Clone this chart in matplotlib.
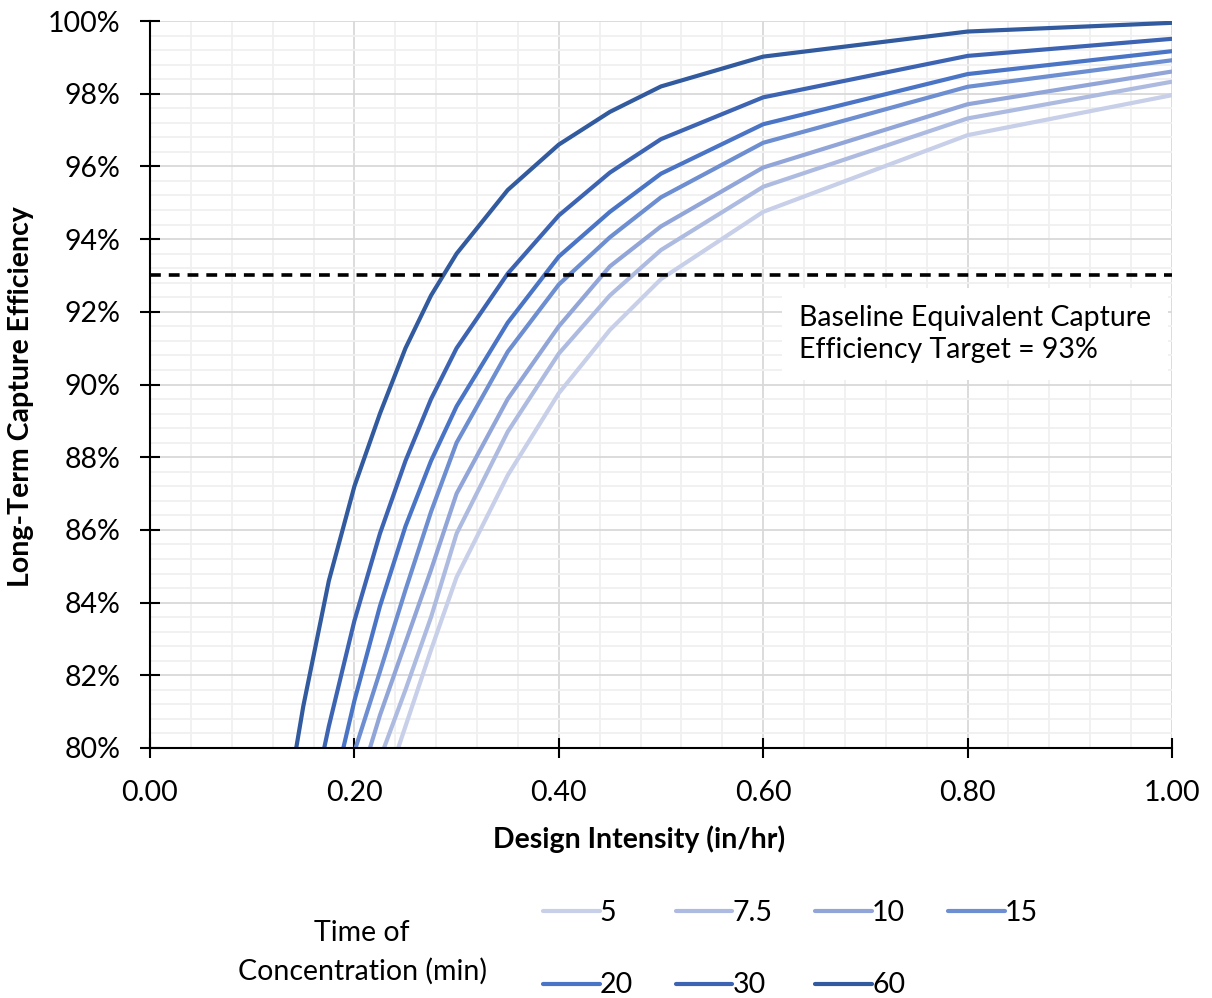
import matplotlib
matplotlib.use("Agg")
import matplotlib.pyplot as plt
from matplotlib.ticker import MultipleLocator, FuncFormatter

plt.rcParams['font.family'] = ['Lato', 'DejaVu Sans']

# design intensity (in/hr)
intensity = [0.125, 0.15, 0.175, 0.2, 0.225, 0.25, 0.275, 0.3, 0.35, 0.4, 0.45, 0.5, 0.6, 0.8, 1.0]

# long-term capture efficiency (%) per time of concentration (min)
tc_5 = [74.0, 75.5, 77.0, 76.5, 78.5, 80.6, 82.7, 84.7, 87.5, 89.76, 91.5, 92.9, 94.75, 96.86, 97.96]
tc_7_5 = [74.0, 75.5, 76.5, 77.8, 79.7, 81.6, 83.6, 85.9, 88.7, 90.85, 92.45, 93.7, 95.44, 97.32, 98.33]
tc_10 = [74.0, 75.5, 76.5, 78.6, 80.9, 82.9, 84.9, 87.0, 89.6, 91.6, 93.25, 94.35, 95.97, 97.71, 98.61]
tc_15 = [74.0, 75.5, 77.4, 79.9, 82.1, 84.35, 86.5, 88.4, 90.9, 92.75, 94.05, 95.15, 96.65, 98.19, 98.92]
tc_20 = [74.0, 75.5, 78.3, 81.3, 83.9, 86.1, 87.9, 89.4, 91.7, 93.52, 94.75, 95.8, 97.16, 98.54, 99.17]
tc_30 = [74.0, 77.3, 80.6, 83.5, 85.9, 87.9, 89.6, 91.0, 93.05, 94.65, 95.83, 96.75, 97.9, 99.04, 99.51]
tc_60 = [77.0, 81.15, 84.6, 87.2, 89.2, 91.0, 92.45, 93.6, 95.35, 96.6, 97.5, 98.2, 99.02, 99.71, 99.95]

labels = ['5', '7.5', '10', '15', '20', '30', '60']
series = [tc_5, tc_7_5, tc_10, tc_15, tc_20, tc_30, tc_60]
colors = ['#c7cfe9', '#aebbe1', '#91a5d8', '#6d8ed0', '#4a74c6', '#3d64b3', '#325a9e']

target = 93.0
target_text = 'Baseline Equivalent Capture\nEfficiency Target = 93%'

fs = 20.5

fig = plt.figure(figsize=(12.12, 9.98), dpi=100)
ax = fig.add_axes([150 / 1212, 1 - 748 / 998, (1172 - 150) / 1212, (748 - 21) / 998])

lines = {}
for lab, vals, col in zip(labels, series, colors):
    ln, = ax.plot(intensity, vals, color=col, lw=3.0, label=lab, solid_capstyle='round', zorder=3)
    lines[lab] = ln

ax.axhline(target, color='black', lw=2.6, ls=(0, (3, 2.2)), zorder=4)

ax.text(0.635, 91.39, target_text, fontsize=fs, va='center', ha='left', linespacing=1.25,
        bbox=dict(boxstyle='square,pad=0.6', fc='white', ec='none'), zorder=2.5)

ax.set_xlim(0, 1.0)
ax.set_ylim(80, 100)
ax.xaxis.set_major_locator(MultipleLocator(0.2))
ax.xaxis.set_minor_locator(MultipleLocator(0.04))
ax.yaxis.set_major_locator(MultipleLocator(2))
ax.yaxis.set_minor_locator(MultipleLocator(0.4))
ax.xaxis.set_major_formatter(FuncFormatter(lambda v, p: f'{v:.2f}'))
ax.yaxis.set_major_formatter(FuncFormatter(lambda v, p: f'{v:.0f}%'))

ax.grid(which='major', color='#d9d9d9', lw=1.3, zorder=0)
ax.grid(which='minor', color='#f0f0f0', lw=1.3, zorder=0)
ax.set_axisbelow(True)

for s in ['top', 'right']:
    ax.spines[s].set_visible(False)
for s in ['left', 'bottom']:
    ax.spines[s].set_linewidth(1.5)
    ax.spines[s].set_zorder(5)

ax.tick_params(which='major', direction='inout', length=14, width=1.5, labelsize=fs)
ax.tick_params(which='minor', length=0)
ax.tick_params(axis='y', pad=14)
ax.tick_params(axis='x', pad=16)

ax.set_xlabel('Design Intensity (in/hr)', fontsize=fs, fontweight='bold', labelpad=14)
ax.set_ylabel('Long-Term Capture Efficiency', fontsize=fs, fontweight='bold', labelpad=10)
ax.xaxis.label.set_x(0.479)
ax.yaxis.label.set_y(0.483)

order = ['5', '20', '7.5', '30', '10', '60', '15']
leg = fig.legend([lines[k] for k in order], order, ncol=4, loc='center left',
                 bbox_to_anchor=(517 / 1212, 1 - 949 / 998), frameon=False, fontsize=fs,
                 handlelength=2.0, handletextpad=0.0, columnspacing=1.5, labelspacing=1.65)

fig.text(362 / 1212, 1 - 952 / 998, 'Time of\nConcentration (min)', fontsize=fs,
         ha='center', va='center', linespacing=1.55)

fig.savefig('out.png', dpi=100)
